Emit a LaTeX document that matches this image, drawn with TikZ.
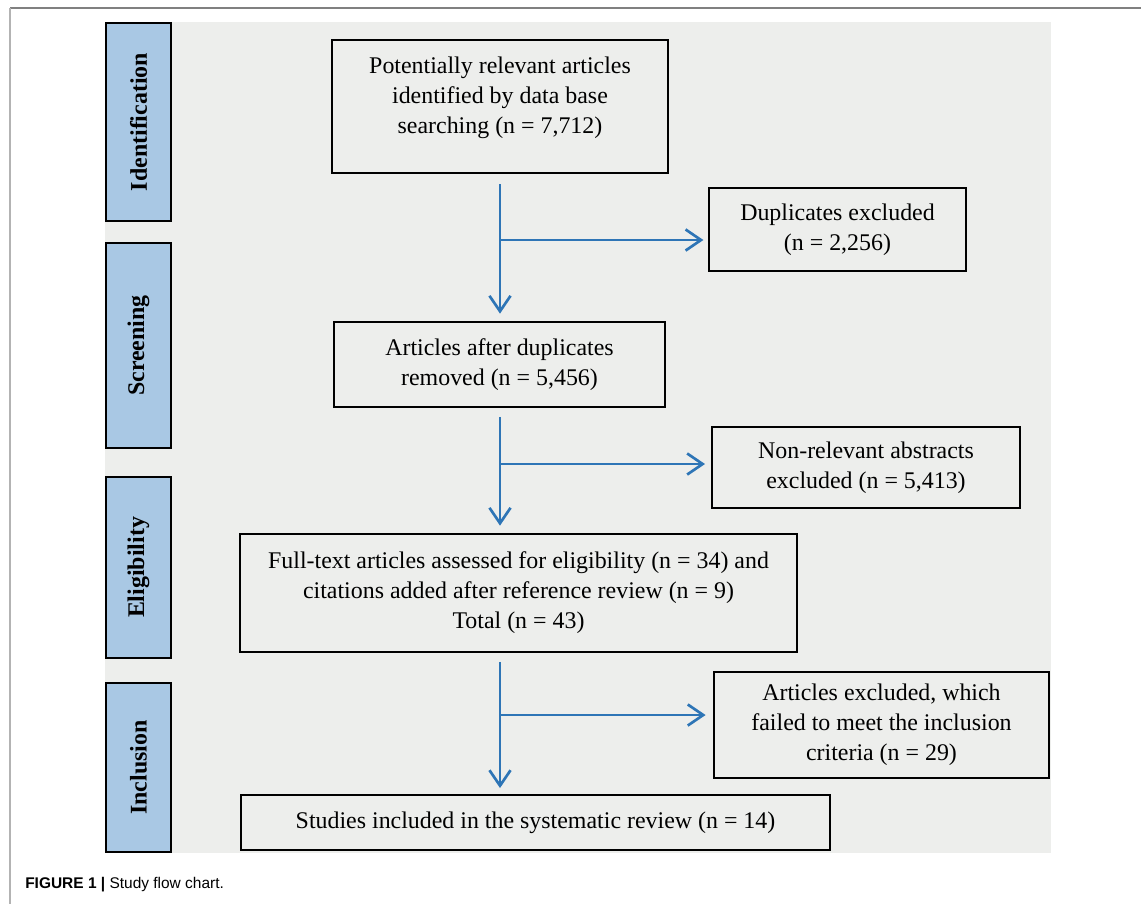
\documentclass[tikz,border=0pt]{standalone}
\usepackage{fontspec}
\setmainfont{Liberation Serif}
\newfontfamily\capfont{Liberation Sans}
\usetikzlibrary{arrows.meta}
\definecolor{panelgray}{RGB}{237,238,236}
\definecolor{phaseblue}{RGB}{169,200,228}
\definecolor{flowblue}{RGB}{46,117,182}
\definecolor{framegray}{RGB}{128,128,128}
\tikzset{
  phasebox/.style={draw=black, line width=1.6pt, fill=phaseblue, rotate=90,
    font=\fontsize{17}{20}\selectfont\bfseries, minimum height=1.625cm, inner sep=0pt},
  flowbox/.style={draw=black, line width=1.9pt, align=center, inner sep=0pt},
  flowarrow/.style={draw=flowblue, line width=1.9pt,
    -{Straight Barb[length=11pt,width=15pt]}},
}
\begin{document}
\begin{tikzpicture}[x=0.025cm, y=-0.025cm, font=\fontsize{17}{21.3}\selectfont]
\useasboundingbox (0,0) rectangle (1141,904);
% frame and panel
\draw[framegray, line width=1.6pt] (10,8) -- (1141,8);
\draw[framegray!60, line width=0.8pt] (10,8) -- (10,904);
\fill[panelgray] (105,22) rectangle (1051,853);
% phases
\node[phasebox, minimum width=4.95cm] (ident) at (138.5,122) {Identification};
\node[phasebox, minimum width=5.125cm] (screen) at (138.5,345.5) {Screening};
\node[phasebox, minimum width=4.525cm] (elig) at (138.5,567.5) {Eligibility};
\node[phasebox, minimum width=4.225cm] (incl) at (138.5,767.5) {Inclusion};
% main boxes
\node[flowbox, minimum width=8.4cm, minimum height=3.325cm,
  label={[align=center, yshift=0.21cm]center:{Potentially relevant articles\\identified by data base\\searching (n = 7,712)}}]
  (search) at (500,106.5) {};
\node[flowbox, minimum width=6.425cm, minimum height=2.075cm] (dup) at (837.5,229.5)
  {Duplicates excluded\\(n = 2,256)};
\node[flowbox, minimum width=8.275cm, minimum height=2.125cm] (removed) at (499.5,364.5)
  {Articles after duplicates\\removed (n = 5,456)};
\node[flowbox, minimum width=7.7cm, minimum height=2.025cm] (nonrel) at (866,467.5)
  {Non-relevant abstracts\\excluded (n = 5,413)};
\node[flowbox, minimum width=13.925cm, minimum height=2.95cm] (fulltext) at (518.5,593)
  {Full-text articles assessed for eligibility (n = 34) and\\citations added after reference review (n = 9)\\Total (n = 43)};
\node[flowbox, minimum width=8.375cm, minimum height=2.65cm] (failed) at (881.5,725)
  {Articles excluded, which\\failed to meet the inclusion\\criteria (n = 29)};
\node[flowbox, minimum width=14.725cm, minimum height=1.375cm] (included) at (535.5,822.5)
  {Studies included in the systematic review (n = 14)};
% connectors
\coordinate (s1) at (500,240);
\coordinate (s2) at (500,464);
\coordinate (s3) at (500,715);
\draw[flowarrow, shorten <=7pt, shorten >=5pt] (search.south) -- (search.south |- removed.north);
\draw[flowarrow, shorten >=3pt] (s1) -- (s1 -| dup.west);
\draw[flowarrow, shorten <=6pt, shorten >=5pt] (search.south |- removed.south) -- (search.south |- fulltext.north);
\draw[flowarrow, shorten >=4pt] (s2) -- (s2 -| nonrel.west);
\draw[flowarrow, shorten <=6pt, shorten >=4pt] (search.south |- fulltext.south) -- (search.south |- included.north);
\draw[flowarrow, shorten >=5pt] (s3) -- (s3 -| failed.west);
% caption
\node[anchor=base west, inner sep=0pt, font=\capfont\fontsize{11}{13}\selectfont] (caption) at (25,888)
  {\textbf{FIGURE 1} \textbf{|} Study flow chart.};
\end{tikzpicture}
\end{document}
